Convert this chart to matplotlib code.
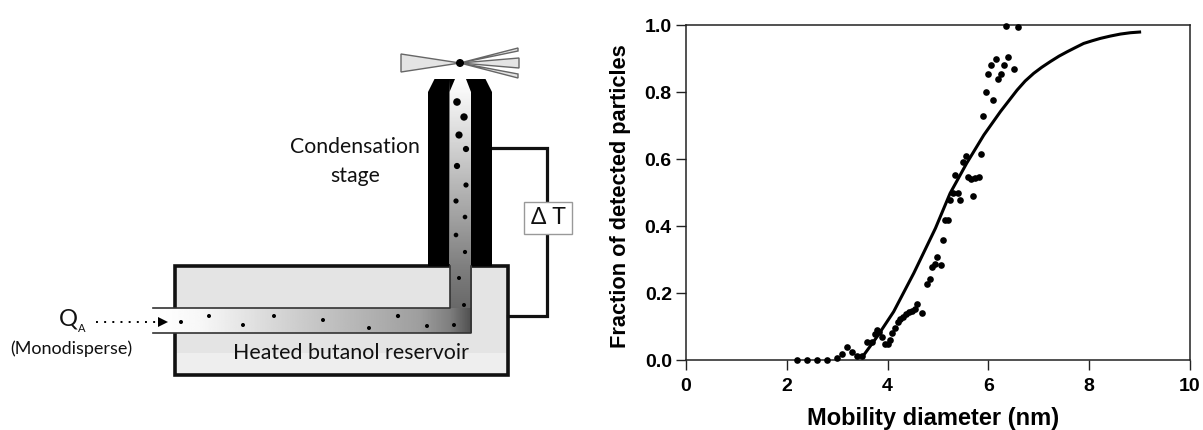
import matplotlib
matplotlib.use("Agg")
import matplotlib.pyplot as plt
import numpy as np
from matplotlib.patches import Circle, Polygon, Rectangle

# measured response, diameter in nm / detected fraction
diameter = [2.20, 2.40, 2.59, 2.79, 2.99, 3.09, 3.20, 3.30, 3.40, 3.50, 3.59, 3.69, 3.75, 3.79,
            3.83, 3.89, 3.95, 4.00, 4.05, 4.09, 4.15, 4.20, 4.25, 4.30, 4.36, 4.42, 4.48, 4.55,
            4.59, 4.69, 4.79, 4.85, 4.89, 4.95, 4.99, 5.05, 5.09, 5.14, 5.20, 5.24, 5.29, 5.34,
            5.39, 5.44, 5.50, 5.55, 5.59, 5.65, 5.69, 5.74, 5.81, 5.85, 5.90, 5.95, 6.00, 6.05,
            6.10, 6.15, 6.19, 6.25, 6.30, 6.34, 6.39, 6.50, 6.59]
fraction = [0.000, 0.000, 0.000, 0.000, 0.008, 0.020, 0.041, 0.026, 0.014, 0.014, 0.054, 0.055, 0.079, 0.091,
            0.083, 0.069, 0.048, 0.049, 0.060, 0.080, 0.097, 0.113, 0.123, 0.130, 0.138, 0.143, 0.147, 0.153,
            0.167, 0.140, 0.229, 0.243, 0.279, 0.287, 0.308, 0.283, 0.359, 0.418, 0.418, 0.477, 0.500, 0.552,
            0.500, 0.477, 0.590, 0.610, 0.546, 0.540, 0.490, 0.544, 0.546, 0.614, 0.728, 0.800, 0.853, 0.880,
            0.777, 0.900, 0.840, 0.855, 0.880, 0.997, 0.904, 0.870, 0.994]

# fitted curve
curve_x = [3.50, 3.79, 4.12, 4.52, 4.95, 5.24, 5.57, 5.91, 6.24, 6.57, 6.73, 6.90, 7.06, 7.23, 7.40,
           7.56, 7.73, 7.89, 8.06, 8.22, 8.42, 8.62, 8.82, 9.00]
curve_y = [0.010, 0.070, 0.145, 0.260, 0.394, 0.498, 0.588, 0.672, 0.742, 0.806, 0.833, 0.856, 0.874, 0.891, 0.907,
           0.920, 0.933, 0.945, 0.953, 0.960, 0.967, 0.973, 0.977, 0.979]

x_ticks = [0, 2, 4, 6, 8, 10]
y_ticks = [0.0, 0.2, 0.4, 0.6, 0.8, 1.0]

# droplets in the schematic: x, y, radius in image pixels
drop_x = [181, 209, 243, 274, 323, 369, 398, 427, 454, 464, 459, 465, 456, 465, 456, 466, 457, 466, 459, 464, 457]
drop_y = [322, 316, 325, 316, 320, 328, 316, 326, 325, 305, 278, 252, 235, 217, 201, 185, 166, 149, 135, 117, 102]
drop_r = [2.0, 2.0, 2.0, 2.0, 2.0, 2.0, 2.1, 2.0, 2.0, 2.0, 2.0, 2.1, 2.3, 2.3, 2.6, 2.6, 3.1, 3.1, 3.6, 3.7, 3.8]

W, H = 1203, 430
fig = plt.figure(figsize=(W / 100, H / 100), dpi=100)

# schematic, drawn in image pixel coordinates
sk = fig.add_axes([0, 0, 1, 1])
sk.set_axis_off()

sk.add_patch(Rectangle((175, 266), 333, 109, fc="#e4e4e4", ec="none", zorder=1))
sk.add_patch(Rectangle((175, 353), 333, 22, fc="#eeeeee", ec="none", zorder=1))
sk.add_patch(Rectangle((175, 266), 333, 109, fc="none", ec="#111111", lw=2.6, zorder=2))

# heat wire and delta T box
sk.plot([492, 547, 547, 508], [148, 148, 316, 316], color="#111111", lw=2.3, solid_joinstyle="miter", zorder=1)
sk.add_patch(Rectangle((524, 202), 48, 32, fc="white", ec="#999999", lw=1, zorder=3))
sk.text(548, 218, "Δ T", fontsize=16.5, family="Lato", ha="center", va="center", color="#111111", zorder=4)

# gradient in the flow channel
ys = np.linspace(79, 333, 128)[:, None]
vert = np.interp(ys, [79, 110, 266, 333], [1.0, 0.92, 0.5, 0.36])
sk.imshow(vert, extent=[449.5, 471, 333, 79], cmap="gray", vmin=0, vmax=1, aspect="auto", zorder=3)
xs = np.linspace(154, 471, 256)[None, :]
horiz = np.interp(xs, [154, 200, 300, 420, 450, 471], [1.0, 0.97, 0.8, 0.62, 0.5, 0.32])
sk.imshow(horiz, extent=[154, 471, 333, 308], cmap="gray", vmin=0, vmax=1, aspect="auto", zorder=3)

# condensation column, two black walls with the nozzle taper
sk.add_patch(Polygon([(428, 266), (428, 92), (434.5, 79), (449.5, 79), (449.5, 266)], fc="black", ec="none", zorder=4))
sk.add_patch(Polygon([(492, 266), (492, 92), (485.5, 79), (471, 79), (471, 266)], fc="black", ec="none", zorder=4))
sk.add_patch(Polygon([(449, 79), (455, 79), (449.5, 92)], fc="black", ec="none", zorder=4))
sk.add_patch(Polygon([(471.5, 79), (466, 79), (471, 92)], fc="black", ec="none", zorder=4))

# channel outline
sk.plot([153, 449.5, 449.5], [308, 308, 266], color="#333333", lw=1.2, zorder=5)
sk.plot([153, 471, 471], [333, 333, 266], color="#333333", lw=1.2, zorder=5)

for dx, dy, dr in zip(drop_x, drop_y, drop_r):
    sk.add_patch(Circle((dx, dy), dr, fc="black", ec="none", zorder=6))

# light beams and scattering particle
beam = dict(fc="#e4e4e4", ec="#666666", lw=1.0, zorder=3)
sk.add_patch(Polygon([(401, 54), (401, 72), (460, 63)], **beam))
sk.add_patch(Polygon([(460, 63), (519, 58), (519, 68)], **beam))
sk.add_patch(Polygon([(460, 63), (518, 48), (518, 51)], **beam))
sk.add_patch(Polygon([(460, 63), (518, 74), (518, 78)], **beam))
sk.add_patch(Circle((460, 63), 4, fc="black", ec="none", zorder=6))

# inlet arrow
sk.plot([96, 157], [322, 322], color="black", lw=1.4, ls=(0, (1, 3.2)), zorder=5)
sk.add_patch(Polygon([(158, 317), (158, 327), (168, 322)], fc="black", ec="none", zorder=6))

label_font = dict(family="Lato", color="#111111", zorder=7)
sk.text(59, 319, "Q", fontsize=17, ha="left", va="center", **label_font)
sk.text(78, 329, "A", fontsize=8, ha="left", va="center", **label_font)
sk.text(71.5, 349, "(Monodisperse)", fontsize=13, ha="center", va="center", **label_font)
sk.text(351, 353, "Heated butanol reservoir", fontsize=15.4, ha="center", va="center", **label_font)
sk.text(355, 147, "Condensation", fontsize=15.3, ha="center", va="center", **label_font)
sk.text(355, 176, "stage", fontsize=15.3, ha="center", va="center", **label_font)

sk.set_xlim(0, W)
sk.set_ylim(H, 0)

# response plot
ax = fig.add_axes([686 / W, 1 - 360.3 / H, 504 / W, 335.3 / H])
ax.set_facecolor("none")
ax.plot(curve_x, curve_y, color="black", lw=2.2, clip_on=False, zorder=3)
ax.plot(diameter, fraction, "o", color="black", ms=4.8, mew=0, clip_on=False, zorder=4)

ax.set_xlim(0, 10)
ax.set_ylim(0, 1)
ax.set_xticks(x_ticks)
ax.set_yticks(y_ticks)
ax.set_yticklabels([f"{v:.1f}" for v in y_ticks])
for side in ["left", "bottom", "top", "right"]:
    ax.spines[side].set_linewidth(1.1)
    ax.spines[side].set_color("#222222")
ax.tick_params(length=7.2, width=1.0, color="#222222", labelsize=14)
ax.tick_params(axis="x", pad=5.5)
ax.tick_params(axis="y", pad=3)
for lab in ax.get_xticklabels() + ax.get_yticklabels():
    lab.set_fontfamily("Liberation Sans")
    lab.set_fontweight("bold")

fig.text(933.5 / W, 1 - 418 / H, "Mobility diameter (nm)", family="Liberation Sans", fontweight="bold",
         fontsize=17, ha="center", va="center")
fig.text(620.5 / W, 1 - 196 / H, "Fraction of detected particles", family="Liberation Sans", fontweight="bold",
         fontsize=15.7, rotation=90, ha="center", va="center")

fig.savefig("out.png", dpi=100)
